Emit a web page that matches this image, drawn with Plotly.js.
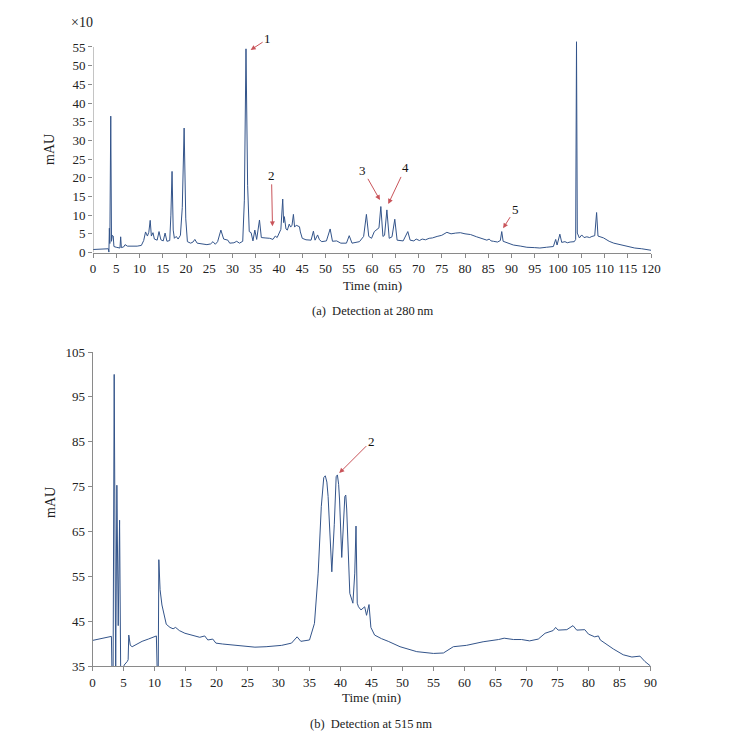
<!DOCTYPE html>
<html>
<head>
<meta charset="utf-8">
<script src="https://cdn.plot.ly/plotly-3.0.1.min.js"></script>
<style>
html,body{margin:0;padding:0;background:#fff;}
#chart{width:745px;height:737px;}
</style>
</head>
<body>
<div id="chart"></div>
<script>
// ---- Data: detection at 280 nm (mAU x10) ----
var time280 = [0,1.5,3.3,3.42,3.52,3.62,3.82,3.98,4.15,4.35,4.5,5.0,5.8,5.95,6.1,6.6,6.9,7.4,8.5,9.5,10.4,10.9,11.3,11.7,12.0,12.3,12.55,12.9,13.2,13.8,14.2,14.6,15.1,15.5,15.9,16.5,16.75,17.0,17.25,17.5,17.9,18.3,18.8,19.2,19.6,19.95,20.3,21.0,21.5,21.9,22.4,23.5,24.5,25.3,25.8,26.3,26.8,27.5,28.1,29.0,29.4,30.3,30.9,31.5,32.2,32.55,32.9,33.25,33.6,34.0,34.4,34.8,35.2,35.8,36.2,37.0,38.0,38.7,39.2,39.6,40.0,40.4,40.8,41.0,41.15,41.5,41.8,42.2,42.5,42.8,43.1,43.35,43.7,44.1,44.4,44.6,45.0,45.8,46.9,47.4,47.75,48.3,48.7,49.2,50.2,51.0,51.5,52.4,53.3,54.5,55.1,55.7,57.3,58.2,58.8,59.3,59.9,60.5,61.0,61.5,61.9,62.35,62.7,63.2,63.7,64.3,64.9,65.4,66.7,67.7,68.2,69.0,69.5,70.2,70.8,71.5,72.3,73.0,74.0,75.0,76.1,77.0,78.0,79.0,80.0,81.2,82.5,83.5,84.7,85.2,85.6,86.1,87.0,87.6,87.9,88.2,89.0,90.4,92.0,93.3,95.0,96.1,97.5,98.3,99.0,99.5,99.8,100.4,100.8,101.5,102.0,102.6,103.5,103.8,103.88,103.93,103.98,104.15,104.6,105.1,105.6,106.2,106.8,107.3,107.9,108.3,108.6,109.8,111.0,112.0,113.5,114.8,116.5,118.0,120.0];
var mau280 = [0.8,0.9,1.0,0.1,6.5,2.4,36.5,3.0,4.6,4.4,1.6,1.4,1.2,4.2,1.3,1.5,2.1,1.7,1.6,1.7,1.9,3.2,5.5,4.4,5.4,8.6,4.4,5.3,3.6,3.3,5.6,3.4,3.1,5.2,3.0,3.2,10,21.7,6.0,3.8,4.3,3.6,4.6,12,33.3,9,2.9,2.5,2.8,3.5,2.5,2.2,2.1,2.3,2.9,2.2,2.9,6.0,3.6,3.3,2.5,2.6,3.0,2.5,3.0,14,54.5,18,5.6,5.3,3.1,6.0,3.5,8.7,4.0,3.9,3.8,3.5,4.4,4.0,4.9,6.2,14.3,8.0,9.6,6.3,6.0,7.6,6.8,7.3,10.2,6.8,7.3,7.0,6.9,5.5,3.8,3.4,3.3,5.7,3.3,4.7,3.4,2.9,3.1,6.3,3.0,3.1,2.5,2.5,4.5,2.5,2.9,4.3,10.2,4.3,3.8,5.6,6.2,6.6,12.3,4.3,4.6,11.4,3.8,4.2,8.9,3.3,3.1,5.6,3.3,3.1,3.6,3.2,3.6,3.4,3.8,3.9,4.3,4.6,5.4,5.0,5.2,5.3,5.0,4.8,4.2,3.8,3.3,3.6,3.1,3.0,2.8,3.2,5.6,3.0,2.6,2.0,1.7,1.4,1.3,1.2,1.4,1.4,1.6,3.5,2.0,4.9,2.7,2.9,2.6,2.8,2.9,3.5,50.2,47,56.4,5.2,3.9,4.7,4.0,4.2,4.0,4.3,4.5,10.7,4.4,3.9,3.0,2.5,2.0,1.6,1.2,1.0,0.6];

// ---- Data: detection at 515 nm (mAU) ----
var time515 = [0,1.0,2.0,3.05,3.15,3.32,3.5,3.68,3.74,3.93,4.15,4.37,4.45,4.55,5.0,5.1,5.6,5.75,5.85,6.1,6.4,7.0,8.0,9.0,10.3,10.45,10.6,10.7,10.9,11.2,11.5,11.9,12.5,13.0,13.4,14.0,14.9,15.8,16.5,17.3,18.1,18.6,19.4,19.9,21.0,22.4,24.0,26.2,28.0,30.5,32.1,33.0,33.6,35.0,35.8,36.4,36.9,37.3,37.55,37.8,38.0,38.6,39.0,39.3,39.5,39.7,39.85,40.2,40.7,40.85,41.0,41.1,41.5,42.0,42.3,42.5,42.7,42.9,43.3,43.9,44.2,44.6,44.9,45.5,46.6,47.7,49.6,52.3,55.0,56.6,58.2,60.3,62.5,63.0,65.5,66.4,67.9,69.2,70.5,71.9,73.0,74.3,74.7,75.1,76.5,77.5,78.1,79.4,80.0,81.0,81.6,81.9,84.0,85.6,87.0,88.3,89.1,90.0];
var mau515 = [40.7,41.0,41.3,41.6,33,33,100,33,33,75.3,44,67.5,39,33,33,35.2,36.0,36.4,41.9,39.6,39.3,39.8,40.5,41.0,41.7,33,33,58.7,52,48.6,46.5,44.3,43.6,43.3,43.6,42.9,42.3,41.9,41.6,41.4,41.7,40.8,41.0,40.1,39.9,39.7,39.4,39.2,39.3,39.6,40.1,41.5,40.5,40.8,44.5,55.7,70.5,77.0,77.4,76.0,72.8,56.0,66.6,77.2,77.6,75.5,72,59.2,72.8,73.1,70,66.6,51.2,49.0,55.7,66.2,49.0,48.2,47.5,48.2,46.3,48.7,43.6,41.9,41.1,40.5,39.3,38.2,37.8,37.9,39.3,39.6,40.2,40.4,40.9,41.2,40.9,40.9,40.6,41.0,42.3,42.9,43.6,43.0,43.1,44.0,43.0,43.1,42.1,41.5,41.7,40.8,38.8,37.5,37.0,37.2,36.0,35.0];

// ---- Tick labels ----
var xTicksTop = [0,5,10,15,20,25,30,35,40,45,50,55,60,65,70,75,80,85,90,95,100,105,110,115,120];
var yTicksTop = [0,5,10,15,20,25,30,35,40,45,50,55];
var xTicksBottom = [0,5,10,15,20,25,30,35,40,45,50,55,60,65,70,75,80,85,90];
var yTicksBottom = [35,45,55,65,75,85,95,105];

// ---- Peak labels ----
var peakLabels = ['1','2','3','4','5'];
var peakX = [33.9,38.6,61.7,63.5,88.2];
var peakY = [54.2,7.0,14.05,13.0,6.5];
var peak515Label = '2';
var peak515X = 39.8, peak515Y = 78.0;

var W = 745, H = 737;
function px(x){return x/W;}
function py(y){return (H-y)/H;}

var lineColor = '#33548a';
var axisColor = '#8a8a8a';
var serif = 'Liberation Serif, Times New Roman, serif';
var tickFont = {family: serif, size: 13, color: '#222'};

var traces = [
  {x: time280, y: mau280, type: 'scatter', mode: 'lines', line: {color: lineColor, width: 1}, xaxis: 'x', yaxis: 'y', hoverinfo: 'skip'},
  {x: time515, y: mau515, type: 'scatter', mode: 'lines', line: {color: lineColor, width: 1}, xaxis: 'x2', yaxis: 'y2', hoverinfo: 'skip'}
];

var axCommon = {
  showgrid: false, zeroline: false, ticks: 'outside', ticklen: 4, tickwidth: 1,
  tickcolor: axisColor, linecolor: axisColor, linewidth: 1, tickfont: tickFont, fixedrange: true
};

var arrowColor = '#c9545a';
var annots = [];
var offs = [[17,-11],[-1,-51],[-17,-30],[17,-36],[12,-19]];
for (var i = 0; i < peakLabels.length; i++) {
  annots.push({x: peakX[i], y: peakY[i], xref: 'x', yref: 'y', text: peakLabels[i],
    showarrow: true, arrowhead: 2, arrowsize: 1, arrowwidth: 1, arrowcolor: arrowColor,
    ax: offs[i][0], ay: offs[i][1], font: {family: serif, size: 13, color: '#111'}});
}
annots.push({x: peak515X, y: peak515Y, xref: 'x2', yref: 'y2', text: peak515Label,
  showarrow: true, arrowhead: 2, arrowsize: 1, arrowwidth: 1, arrowcolor: arrowColor,
  ax: 32, ay: -32, font: {family: serif, size: 13, color: '#111'}});

function txt(x, y, t, size, angle) {
  return {x: px(x), y: py(y), xref: 'paper', yref: 'paper', text: t, showarrow: false,
    xanchor: 'center', yanchor: 'middle', textangle: angle || 0,
    font: {family: serif, size: size, color: '#222'}};
}
annots.push(txt(82, 23, '\u00d710', 14));
annots.push(txt(50, 150, 'mAU', 14, -90));
annots.push(txt(372, 285, 'Time (min)', 13));
annots.push(txt(372, 311, '(a)\u00a0 Detection at 280\u2009nm', 12.5));
annots.push(txt(50, 503, 'mAU', 14, -90));
annots.push(txt(371, 697, 'Time (min)', 13));
annots.push(txt(371, 724, '(b)\u00a0 Detection at 515\u2009nm', 12.5));

var layout = {
  width: W, height: H,
  margin: {l: 0, r: 0, t: 0, b: 0},
  paper_bgcolor: '#fff', plot_bgcolor: '#fff',
  showlegend: false,
  xaxis: Object.assign({}, axCommon, {domain: [px(93), px(651)], range: [0, 120], tickvals: xTicksTop, showline: true, anchor: 'y'}),
  yaxis: Object.assign({}, axCommon, {domain: [py(252.5), py(39.5)], range: [0, 57], tickvals: yTicksTop, showline: false, anchor: 'x'}),
  xaxis2: Object.assign({}, axCommon, {domain: [px(92.5), px(650.5)], range: [0, 90], tickvals: xTicksBottom, showline: true, anchor: 'y2'}),
  yaxis2: Object.assign({}, axCommon, {domain: [py(666), py(352)], range: [35, 105], tickvals: yTicksBottom, showline: true, anchor: 'x2'}),
  shapes: [
    {type: 'line', xref: 'x', yref: 'y', x0: 0, x1: 0, y0: 0, y1: 55, line: {color: axisColor, width: 1}}
  ],
  annotations: annots
};

Plotly.newPlot('chart', traces, layout, {staticPlot: true, displayModeBar: false});
</script>
</body>
</html>
